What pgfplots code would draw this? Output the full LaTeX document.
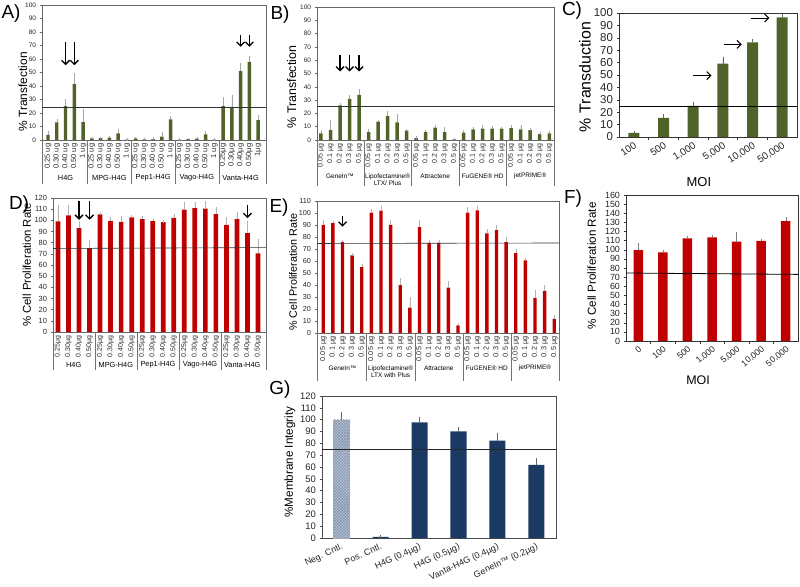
\documentclass[border=0pt]{standalone}
\usepackage{fontspec}
\setmainfont{Liberation Sans}
\usepackage{pgfplots}
\pgfplotsset{compat=1.18}
\usetikzlibrary{arrows.meta,patterns}
\definecolor{olv}{HTML}{4F6228}
\definecolor{rd}{HTML}{C00000}
\definecolor{nv}{HTML}{1B3A63}
\definecolor{ngc}{HTML}{B7C3D6}
\definecolor{ngp}{HTML}{7F90AC}
\newcommand\fs[1]{\fontsize{#1}{#1}\selectfont}
\newcommand\sep[2]{\draw[black!55] (axis cs:#1,0) -- ([yshift=-#2]axis cs:#1,0);}
\newcommand\tk[1]{\draw[black!80] (axis cs:#1,0) -- ([yshift=-3bp]axis cs:#1,0);}
\tikzset{arr/.style={-{Straight Barb[length=4bp,width=8bp]}, line width=1.3bp, black}}
\pgfplotsset{
  base/.style={scale only axis, anchor=south west, clip=false, ymin=0,
    axis line style={black!60, line width=0.5bp},
    tick align=outside, major tick length=2.5bp, tick pos=left,
    tick style={black!60, line width=0.4bp},
    /pgf/number format/assume math mode=true,
    tick label style={black!85},
    ylabel style={anchor=center}, xlabel style={anchor=center}},
  ml/.style={base, xtick style={draw=none},
    x tick label style={rotate=90, anchor=east, inner sep=1bp}},
  err/.style={error bars/.cd, y dir=plus, y explicit,
    error bar style={#1, line width=0.4bp},
    error mark options={#1, mark size=1.3bp, line width=0.4bp}},
  bb/.style={ybar, bar shift=0pt, draw=none},
}
\begin{document}
\begin{tikzpicture}
\useasboundingbox (0,0) rectangle (800bp,587bp);

% ---------------- A ----------------
\begin{axis}[ml, at={(42bp,447bp)}, width=224bp, height=135bp,
  xmin=-0.69, xmax=24.9, ymax=100, ytick={0,10,...,100},
  xtick={0,...,24},
  xticklabels={0.25 ug,0.30 ug,0.40 ug,0.50 ug,1 ug,0.25 ug,0.30 ug,0.40 ug,0.50 ug,1 ug,0.25 ug,0.30 ug,0.40 ug,0.50 ug,1 ug,0.25 ug,0.30 ug,0.40 ug,0.50 ug,1 ug,0.25µg,0.30µg,0.40µg,0.50µg,1µg},
  x tick label style={font=\fs{7.5}},
  y tick label style={font=\fs{6.5}},
  ylabel={\% Transfection},
  ylabel style={at={(axis description cs:-0.086,0.356)}, font=\fs{12}}]
\addplot[bb, bar width=3.4bp, fill=olv, err=black!35] table[x index=0,y index=1,y error index=2]{
0 3.7 2.3
1 13 1.8
2 25 4.5
3 41.4 7.4
4 13.3 9
5 1.2 0.3
6 1.3 0.3
7 1.8 0.5
8 4.9 2.5
9 0.3 0.1
10 1.2 0.3
11 0.5 0.2
12 0.7 0.2
13 2.5 2.4
14 15.3 1.4
15 0.3 0.2
16 0.6 0.2
17 1 0.4
18 4.2 1.2
19 0.3 0.1
20 25 5.8
21 24.6 7.4
22 51 5
23 57.9 3.7
24 14.8 2.9
};
\addplot[black!80, line width=0.6bp] coordinates {(-0.69,24.1) (24.9,24.1)};
\sep{-0.69}{44bp}\sep{4.5}{44bp}\sep{9.5}{44bp}\sep{14.5}{44bp}\sep{19.5}{44bp}\sep{24.9}{44bp}
\node[font=\fs{7.4}, yshift=-38bp] at (axis cs:2,0) {H4G};
\node[font=\fs{7.4}, yshift=-38bp] at (axis cs:7,0) {MPG-H4G};
\node[font=\fs{7.4}, yshift=-38bp] at (axis cs:12,0) {Pep1-H4G};
\node[font=\fs{7.4}, yshift=-38bp] at (axis cs:17,0) {Vago-H4G};
\node[font=\fs{7.4}, yshift=-38bp] at (axis cs:22,0) {Vanta-H4G};
\draw[arr] (axis cs:2,72.7) -- (axis cs:2,55.4);
\draw[arr] (axis cs:3,72.7) -- (axis cs:3,55.4);
\draw[arr] (axis cs:22,77.6) -- (axis cs:22,69);
\draw[arr] (axis cs:23,77.6) -- (axis cs:23,69);
\end{axis}

% ---------------- B ----------------
\begin{axis}[ml, at={(317bp,447bp)}, width=237bp, height=133bp,
  xmin=-0.42, xmax=24.5, ymax=100, ytick={0,10,...,100},
  xtick={0,...,24},
  xticklabels={0.05 µg,0.1 µg,0.2 µg,0.3 µg,0.5 µg,0.05 µg,0.1 µg,0.2 µg,0.3 µg,0.5 µg,0.05 µg,0.1 µg,0.2 µg,0.3 µg,0.5 µg,0.05 µg,0.1 µg,0.2 µg,0.3 µg,0.5 µg,0.05 µg,0.1 µg,0.2 µg,0.3 µg,0.5 µg},
  x tick label style={font=\fs{7}},
  y tick label style={font=\fs{6.5}},
  ylabel={\% Transfection},
  ylabel style={at={(axis description cs:-0.107,0.398)}, font=\fs{12.5}}]
\addplot[bb, bar width=3.5bp, fill=olv, err=black!35] table[x index=0,y index=1,y error index=2]{
0 5 1.3
1 7.5 6.3
2 26 0.8
3 31 1.5
4 34 3.7
5 6 1.5
6 13.8 0.5
7 18 2.6
8 13.3 5
9 7 0.5
10 1.5 0.3
11 6 0.8
12 9.3 0.7
13 6 2.8
14 0.5 0.2
15 5.5 0.8
16 8 0.8
17 8.5 1.5
18 8.5 0.8
19 8.5 0.6
20 9 1.5
21 8 2
22 7.5 0.6
23 4.5 0.6
24 5 0.6
};
\addplot[black!80, line width=0.6bp] coordinates {(-0.42,25.5) (24.5,25.5)};
\sep{-0.42}{46bp}\sep{4.5}{46bp}\sep{9.5}{46bp}\sep{14.5}{46bp}\sep{19.5}{46bp}\sep{24.5}{46bp}
\node[font=\fs{6.5}, yshift=-36bp] at (axis cs:2,0) {GeneIn™};
\node[font=\fontsize{6.5}{7.3}\selectfont, align=center, yshift=-39.5bp] at (axis cs:7,0) {Lipofectamine®\\LTX/ Plus};
\node[font=\fs{6.5}, yshift=-36bp] at (axis cs:12,0) {Attractene};
\node[font=\fs{6.5}, yshift=-36bp] at (axis cs:17,0) {FuGENE® HD};
\node[font=\fs{6.5}, yshift=-36bp] at (axis cs:22,0) {jetPRIME®};
\draw[arr] (axis cs:2,64) -- (axis cs:2,51.5);
\draw[arr] (axis cs:3,64) -- (axis cs:3,51.5);
\draw[arr] (axis cs:4,64) -- (axis cs:4,51.5);
\end{axis}

% ---------------- C ----------------
\begin{axis}[base, at={(619bp,450bp)}, width=178bp, height=124bp,
  xmin=-0.5, xmax=5.5, ymax=100, ytick={0,10,...,100},
  axis line style={black!80}, tick style={black!80},
  xtick={0,...,5}, xtick style={draw=none},
  xticklabels={100,500,{1,000},{5,000},{10,000},{50,000}},
  x tick label style={rotate=33, anchor=north east, font=\fs{10}, inner sep=1bp},
  y tick label style={font=\fs{11.5}},
  ylabel={\% Transduction}, xlabel={MOI},
  ylabel style={at={(axis description cs:-0.191,0.484)}, font=\fs{16}},
  xlabel style={at={(axis description cs:0.449,-0.363)}, font=\fs{13}}]
\addplot[bb, bar width=11bp, fill=olv, err=black!60] table[x index=0,y index=1,y error index=2]{
0 3.3 0.5
1 15.5 1.6
2 25 2.2
3 59.2 4.6
4 76.4 1.9
5 96.5 1.4
};
\addplot[black, line width=0.6bp] coordinates {(-0.5,24.8) (5.5,24.8)};
\tk{0.5}\tk{1.5}\tk{2.5}\tk{3.5}\tk{4.5}
\draw[arr, line width=1.1bp] (axis cs:2.0,49.5) -- (axis cs:2.62,49.5);
\draw[arr, line width=1.1bp] (axis cs:3.05,74.7) -- (axis cs:3.64,74.7);
\draw[arr, line width=1.1bp] (axis cs:3.94,95.9) -- (axis cs:4.57,95.9);
\end{axis}

% ---------------- D ----------------
\begin{axis}[ml, at={(53bp,255bp)}, width=213bp, height=134bp,
  xmin=-0.47, xmax=19.76, ymax=120, ytick={0,10,...,120},
  xtick={0,...,19},
  xticklabels={0.25µg,0.30µg,0.40µg,0.50µg,0.25µg,0.30µg,0.40µg,0.50µg,0.25µg,0.30µg,0.40µg,0.50µg,0.25µg,0.30µg,0.40µg,0.50µg,0.25µg,0.30µg,0.40µg,0.50µg},
  x tick label style={font=\fs{7}},
  y tick label style={font=\fs{7.5}},
  ylabel={\% Cell Proliferation Rate},
  ylabel style={at={(axis description cs:-0.123,0.500)}, font=\fs{11.4}}]
\addplot[bb, bar width=4.7bp, fill=rd, err=black!30] table[x index=0,y index=1,y error index=2]{
0 99 14
1 104.4 8
2 93 5.5
3 75 6
4 105.3 0.6
5 99.6 2.4
6 98.7 4
7 102.6 1
8 101 1.5
9 99.3 1
10 98.4 0.6
11 102.3 2.4
12 109.5 6
13 111 4
14 110.4 6
15 105.6 5.4
16 96 5.4
17 101 5.5
18 88.5 9.6
19 70.5 11.4
};
\addplot[black!80, line width=0.6bp] coordinates {(-0.47,74.8) (19.76,75.6)};
\sep{-0.47}{38bp}\sep{3.5}{38bp}\sep{7.5}{38bp}\sep{11.5}{38bp}\sep{15.5}{38bp}\sep{19.76}{38bp}
\node[font=\fs{7.4}, yshift=-33bp] at (axis cs:1.5,0) {H4G};
\node[font=\fs{7.4}, yshift=-33bp] at (axis cs:5.5,0) {MPG-H4G};
\node[font=\fs{7.4}, yshift=-33bp] at (axis cs:9.5,0) {Pep1-H4G};
\node[font=\fs{7.4}, yshift=-33bp] at (axis cs:13.5,0) {Vago-H4G};
\node[font=\fs{7.4}, yshift=-33bp] at (axis cs:17.5,0) {Vanta-H4G};
\draw[arr] (axis cs:2,117) -- (axis cs:2,100.5);
\draw[arr] (axis cs:3,117) -- (axis cs:3,100.5);
\draw[arr] (axis cs:18,114) -- (axis cs:18,102);
\end{axis}

% ---------------- E ----------------
\begin{axis}[ml, at={(317bp,254bp)}, width=242bp, height=132bp,
  xmin=-0.65, xmax=24.49, ymax=110, ytick={0,10,...,110},
  xtick={0,...,24},
  xticklabels={0.05 µg,0.1 µg,0.2 µg,0.3 µg,0.5 µg,0.05 µg,0.1 µg,0.2 µg,0.3 µg,0.5 µg,0.05 µg,0.1 µg,0.2 µg,0.3 µg,0.5 µg,0.05 µg,0.1 µg,0.2 µg,0.3 µg,0.5 µg,0.05 µg,0.1 µg,0.2 µg,0.3 µg,0.5 µg},
  x tick label style={font=\fs{7.3}},
  y tick label style={font=\fs{7.3}},
  ylabel={\% Cell Proliferation Rate},
  ylabel style={at={(axis description cs:-0.099,0.462)}, font=\fs{10.8}}]
\addplot[bb, bar width=3.4bp, fill=rd, err=black!30] table[x index=0,y index=1,y error index=2]{
0 90 2.8
1 91.6 1
2 75.8 1
3 64.6 1
4 54.9 1.7
5 100.3 2.2
6 102 2.5
7 90 3.3
8 39.8 4.8
9 21.2 8
10 88.3 5
11 75.2 0.8
12 75.2 1.4
13 37.9 4.1
14 6.4 0.6
15 100.3 3.6
16 102.2 2.3
17 83 2.8
18 85.8 3.3
19 75.8 3
20 66.5 2.8
21 60.6 1
22 29.3 5.6
23 35 4.2
24 11.8 2
};
\addplot[black!80, line width=0.6bp] coordinates {(-0.65,74.6) (24.49,75)};
\sep{-0.65}{48bp}\sep{4.5}{48bp}\sep{9.5}{48bp}\sep{14.5}{48bp}\sep{19.5}{48bp}\sep{24.49}{48bp}
\node[font=\fs{6.5}, yshift=-35bp] at (axis cs:2,0) {GeneIn™};
\node[font=\fontsize{6.5}{7.3}\selectfont, align=center, yshift=-38.5bp] at (axis cs:7,0) {Lipofectamine®\\LTX with Plus};
\node[font=\fs{6.5}, yshift=-35bp] at (axis cs:12,0) {Attractene};
\node[font=\fs{6.5}, yshift=-35bp] at (axis cs:17,0) {FuGENE® HD};
\node[font=\fs{6.5}, yshift=-35bp] at (axis cs:22,0) {jetPRIME®};
\draw[arr] (axis cs:2,97.5) -- (axis cs:2,88.6);
\end{axis}

% ---------------- F ----------------
\begin{axis}[base, at={(626bp,246bp)}, width=172bp, height=146bp,
  xmin=-0.5, xmax=6.5, ymax=160, ytick={0,10,...,160},
  axis line style={black!80}, tick style={black!80},
  xtick={0,...,6}, xtick style={draw=none},
  xticklabels={0,100,500,{1,000},{5,000},{10,000},{50,000}},
  x tick label style={rotate=40, anchor=north east, font=\fs{8.8}, inner sep=1bp},
  y tick label style={font=\fs{9}},
  ylabel={\% Cell Proliferation Rate}, xlabel={MOI},
  ylabel style={at={(axis description cs:-0.199,0.514)}, font=\fs{11.7}},
  xlabel style={at={(axis description cs:0.419,-0.267)}, font=\fs{12.5}}]
\addplot[bb, bar width=9.5bp, fill=rd, err=black!50] table[x index=0,y index=1,y error index=2]{
0 99.7 6.3
1 97.2 1.4
2 112.5 1.1
3 113.6 1.4
4 108.8 9.2
5 109.6 1
6 131.5 3
};
\addplot[black, line width=0.8bp] coordinates {(-0.5,74.5) (6.5,73)};
\tk{0.5}\tk{1.5}\tk{2.5}\tk{3.5}\tk{4.5}\tk{5.5}
\end{axis}

% ---------------- G ----------------
\begin{axis}[base, at={(322bp,49bp)}, width=234bp, height=142bp,
  xmin=-0.5, xmax=5.5, ymax=120, ytick={0,10,...,120},
  axis line style={black!70}, tick style={black!70},
  xtick={0,...,5}, xtick style={draw=none},
  xticklabels={Neg. Cntl.,Pos. Cntl.,H4G (0.4µg),H4G (0.5µg),Vanta-H4G (0.4µg),GeneIn™ (0.2µg)},
  x tick label style={rotate=25, anchor=north east, font=\fs{9}, inner sep=1.5bp},
  y tick label style={font=\fs{9.5}},
  ylabel={\%Membrane Integrity},
  ylabel style={at={(axis description cs:-0.137,0.535)}, font=\fs{11.7}}]
\addplot[bb, bar width=16bp, fill=ngc, draw=black!35, line width=0.3bp,
  postaction={pattern=crosshatch, pattern color=ngp}, err=black!60] table[x index=0,y index=1,y error index=2]{
0 100 5
};
\addplot[bb, bar width=16bp, fill=nv, err=black!60] table[x index=0,y index=1,y error index=2]{
1 0.9 0.3
2 97.8 3.7
3 90.2 2.8
4 82.2 5.7
5 61.8 4.3
};
\addplot[black!85, line width=0.6bp] coordinates {(-0.5,75.2) (5.5,75.2)};
\end{axis}

% panel letters
\node[font=\fs{19}] at (11bp,573bp) {A)};
\node[font=\fs{19}] at (280bp,572bp) {B)};
\node[font=\fs{19}] at (572bp,576bp) {C)};
\node[font=\fs{19}] at (19bp,382bp) {D)};
\node[font=\fs{19}] at (279bp,379bp) {E)};
\node[font=\fs{19}] at (573bp,388bp) {F)};
\node[font=\fs{19}] at (280bp,197bp) {G)};
\end{tikzpicture}
\end{document}
